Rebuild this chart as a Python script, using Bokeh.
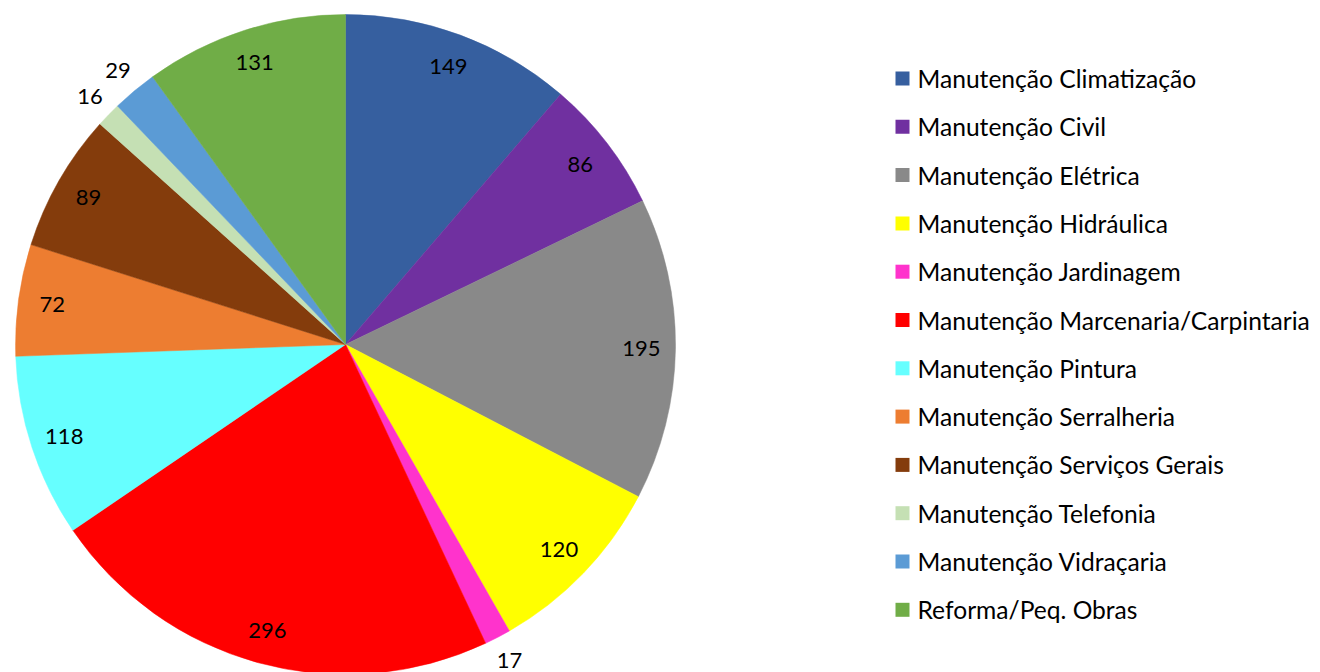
import math
from bokeh.plotting import figure
from bokeh.models import Range1d
from bokeh.core.properties import value
from bokeh.embed import file_html
from bokeh.resources import INLINE

categories = ["Manutenção Climatização", "Manutenção Civil", "Manutenção Elétrica",
              "Manutenção Hidráulica", "Manutenção Jardinagem",
              "Manutenção Marcenaria/Carpintaria", "Manutenção Pintura",
              "Manutenção Serralheria", "Manutenção Serviços Gerais",
              "Manutenção Telefonia", "Manutenção Vidraçaria", "Reforma/Peq. Obras"]
counts = [149, 86, 195, 120, 17, 296, 118, 72, 89, 16, 29, 131]
colors = ["#365F9F", "#7030A0", "#898989", "#FFFF00", "#FF33CC", "#FF0000",
          "#66FFFF", "#ED7D31", "#843C0C", "#C5E0B4", "#5B9BD5", "#70AD47"]
outside = [False, False, False, False, True, False, False, False, False, True, True, False]

W, H = 1312, 672
FONT = "Lato"
cx, cy, R = 345, H - 344, 330

p = figure(width=W, height=H, output_backend="svg", toolbar_location=None,
           x_range=Range1d(0, W), y_range=Range1d(0, H), min_border=0)
p.axis.visible = False
p.grid.visible = False
p.outline_line_color = None

total = float(sum(counts))
starts, ends, lx, ly = [], [], [], []
cum = 0.0
for v, out in zip(counts, outside):
    a0 = math.pi / 2 - cum / total * 2 * math.pi
    cum += v
    a1 = math.pi / 2 - cum / total * 2 * math.pi
    starts.append(a0)
    ends.append(a1)
    mid = (a0 + a1) / 2
    rr = 356 if out else 296
    lx.append(cx + rr * math.cos(mid))
    ly.append(cy + rr * math.sin(mid))

p.wedge(x=cx, y=cy, radius=R, start_angle=starts, end_angle=ends,
        direction="clock", fill_color=colors, line_color=colors, line_width=0.5)
p.text(x=lx, y=ly, text=[str(c) for c in counts], text_align="center",
       text_baseline="middle", text_font=value(FONT), text_font_size="22px",
       text_color="#000000")

# legend
n = len(categories)
ys = [H - (78 + i * 48.3) for i in range(n)]
p.scatter(x=[902] * n, y=ys, marker="square", size=14, fill_color=colors,
          line_color=None)
p.text(x=[917] * n, y=ys, text=categories, text_align="left",
       text_baseline="middle", text_font=value(FONT), text_font_size="24.6px",
       text_color="#000000")

open("out.html", "w").write(file_html(p, INLINE))
